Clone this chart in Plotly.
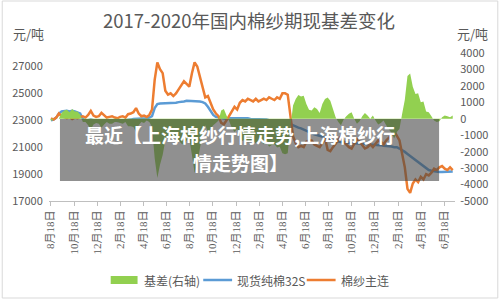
import plotly.graph_objects as go
import pandas as pd

# ---------------- data (weekly readings) ----------------
start_date = "2017-08-18"
futures = [  # 棉纱主连 (元/吨)
    23150, 23050, 23200, 23500, 23300, 23200, 23150, 23250, 23100, 23200,
    23150, 23250, 23300, 23200, 23400, 23700, 23350, 23250, 23300, 23550,
    23400, 23200, 23250, 23300, 23200, 23150, 23250, 23300, 23200, 23450,
    23500, 23600, 23900, 23500, 23300, 23350, 23250, 23400, 23800, 26000,
    27300, 26800, 26500, 25200, 24900, 25000, 24800, 25000, 25300, 25600,
    25900, 25700, 25500, 26500, 27300, 27000, 26200, 25300, 24700, 24800,
    24300, 23800, 23500, 23300, 22800, 22700, 23000, 23300, 23700, 24000,
    23800, 24300, 24500, 24400, 24600, 24500, 24400, 24600, 24400, 24500,
    24600, 24500, 24700, 24600, 24500, 24700, 24600, 25000, 25000, 24900,
    23200, 21800, 21300, 21000, 21100, 21000, 21400, 21500, 21500, 21200,
    21100, 21000, 21300, 21700, 20800, 20700, 21000, 21300, 21600, 21800,
    21400, 21200, 21000, 20900, 21300, 21600, 21400, 21100, 20900, 21000,
    21200, 21000, 21300, 21500, 21400, 21200, 21500, 21700, 21900, 22200,
    21800, 21500, 20500, 19500, 17900, 17600, 18300, 18600, 18400, 18800,
    18600, 19000, 18900, 19100, 19400, 19300, 19500, 19600, 19400, 19300,
    19500, 19300,
]
spot = [  # 现货纯棉32S (元/吨)
    23000, 23050, 23200, 23500, 23650, 23700, 23700, 23650, 23700, 23650,
    23600, 23500, 23100, 23000, 23000, 23050, 23000, 23000, 23000, 23000,
    23050, 23000, 22950, 23000, 23000, 22950, 23000, 23000, 23000, 23000,
    23050, 23100, 23100, 23100, 23100, 23100, 23150, 23200, 23300, 23900,
    24200, 24250, 24250, 24250, 24250, 24250, 24300, 24300, 24350, 24350,
    24400, 24450, 24450, 24450, 24450, 24450, 24400, 24350, 24250, 24000,
    23700, 23400, 23250, 23200, 23150, 23100, 23100, 23150, 23150, 23200,
    23200, 23200, 23150, 23150, 23150, 23100, 23100, 23100, 23100, 23100,
    23050, 23050, 23000, 23000, 22950, 22950, 22900, 22900, 22850, 22800,
    22700, 22600, 22500, 22450, 22400, 22300, 22250, 22150, 22050, 21950,
    21900, 21850, 21800, 21750, 21700, 21600, 21500, 21450, 21400, 21400,
    21350, 21350, 21300, 21300, 21300, 21300, 21250, 21250, 21250, 21200,
    21200, 21200, 21200, 21150, 21150, 21100, 21100, 21050, 21050, 21000,
    21000, 20900, 20800, 20650, 20500, 20350, 20250, 20100, 19950, 19800,
    19650, 19450, 19300, 19250, 19200, 19150, 19150, 19150, 19150, 19150,
    19150, 19200,
]
basis = [  # 基差(右轴) (元/吨)
    -150, 0, 0, 0, 350, 500, 550, 400, 600, 450,
    450, 250, -200, -200, -400, -650, -350, -250, -300, -550,
    -350, -200, -300, -300, -200, -200, -250, -300, -200, -450,
    -450, -500, -800, -400, -200, -250, -100, -200, -500, -2400,
    -3600, -2800, -2200, -1300, -1000, -1200, -900, -1100, -1300, -1500,
    -1600, -1300, -1200, -2200, -3300, -2700, -1800, -900, -400, -800,
    -600, -400, -250, -100, 500, 600, 200, -150, -550, -800,
    -600, -1100, -1350, -1250, -1450, -1400, -1300, -1500, -1300, -1400,
    -1550, -1450, -1700, -1600, -1550, -1750, -1700, -2100, -2150, -2100,
    -500, 800, 1200, 1450, 1350, 1400, 900, 550, 500, 700,
    600, 350, 900, 1200, 1300, 1100, 600, 100, -200, -400,
    -50, 150, 300, 400, 0, -300, -150, 150, 350, 200,
    0, 200, -100, -350, -250, -100, -400, -650, -850, -1200,
    -800, -600, 300, 1150, 2600, 2750, 1950, 1500, 1550, 1000,
    1050, 450, 400, 150, -100, -200, -150, 100, 200, 150,
    100, 200,
]
dates = pd.date_range(start_date, periods=len(futures), freq="7D")

tick_dates = [
    "2017-08-18", "2017-10-18", "2017-12-18", "2018-02-18", "2018-04-18",
    "2018-06-18", "2018-08-18", "2018-10-18", "2018-12-18", "2019-02-18",
    "2019-04-18", "2019-06-18", "2019-08-18", "2019-10-18", "2019-12-18",
    "2020-02-18", "2020-04-18", "2020-06-18",
]
tick_text = [f"{int(d[5:7])}月{d[8:10]}日" for d in tick_dates]
left_ticks = [17000, 19000, 21000, 23000, 25000, 27000]
right_ticks = [-5000, -4000, -3000, -2000, -1000, 0, 1000, 2000, 3000, 4000]

title_text = "2017-2020年国内棉纱期现基差变化"
names = ["基差(右轴)", "现货纯棉32S", "棉纱主连"]
colors = ["#92d050", "#5b9bd5", "#ed7d31"]
overlay_lines = ["最近【上海棉纱行情走势,上海棉纱行", "情走势图】"]

# ---------------- layout geometry (pixels) ----------------
W, H = 500, 300
L, R, T, B = 48, 456, 53, 201
def px(x):
    return (x - L) / (R - L)
def py(y):
    return (B - y) / (B - T)

GRAY = "#595959"
CJK = "Noto Sans CJK SC"

fig = go.Figure()
fig.add_trace(go.Scatter(
    x=dates, y=basis, name=names[0], yaxis="y2", mode="none",
    fill="tozeroy", fillcolor=colors[0],
))
fig.add_trace(go.Scatter(
    x=dates, y=spot, name=names[1], mode="lines",
    line=dict(color=colors[1], width=2.5),
))
fig.add_trace(go.Scatter(
    x=dates, y=futures, name=names[2], mode="lines",
    line=dict(color=colors[2], width=2.5),
))

fig.update_layout(
    width=W, height=H,
    margin=dict(l=L, r=W - R, t=T, b=H - B),
    paper_bgcolor="white", plot_bgcolor="white",
    font=dict(family=CJK, color=GRAY, size=11),
    showlegend=False,
    xaxis=dict(
        type="date", range=["2017-08-13", "2020-07-16"],
        tickvals=tick_dates, ticktext=tick_text, tickangle=-90,
        tickfont=dict(family="Liberation Serif, " + CJK, size=11, color=GRAY),
        showgrid=False, showline=True, linecolor="#bfbfbf", linewidth=1,
        ticks="outside", ticklen=4, tickcolor="#bfbfbf",
        zeroline=False,
    ),
    yaxis=dict(
        range=[17000, 28000], tickvals=left_ticks,
        ticktext=[str(v) for v in left_ticks],
        showgrid=False, zeroline=False, showline=False,
        ticks="outside", ticklen=3, tickcolor="rgba(0,0,0,0)",
        tickfont=dict(size=11, color=GRAY),
    ),
    yaxis2=dict(
        range=[-5000, 4000], tickvals=right_ticks,
        ticktext=[str(v) for v in right_ticks], overlaying="y",
        side="right", showgrid=False, zeroline=False, showline=False,
        ticks="outside", ticklen=2, tickcolor="rgba(0,0,0,0)",
        tickfont=dict(size=11, color=GRAY),
    ),
    title=dict(text=title_text, x=249 / W, xref="container", xanchor="center",
               y=1 - 22 / H, yref="container", yanchor="middle",
               font=dict(size=18.5, color=GRAY, family=CJK)),
)

annos = [
    dict(text="元/吨", x=px(10), y=py(33), xanchor="left"),
    dict(text="元/吨", x=px(456), y=py(33), xanchor="left"),
]
for a in annos:
    fig.add_annotation(xref="paper", yref="paper", showarrow=False,
                       yanchor="middle", font=dict(size=13, color=GRAY, family=CJK), **a)

# custom legend (symbol then label)
leg_y = 280
leg_sym_x = [(110, 137), (203, 232), (307, 336)]
leg_txt_x = [141, 235, 339]
for i, name in enumerate(names):
    x0, x1 = leg_sym_x[i]
    if i == 0:
        fig.add_shape(type="rect", xref="paper", yref="paper",
                      x0=px(x0), x1=px(x1), y0=py(leg_y - 4), y1=py(leg_y + 4),
                      line=dict(width=0), fillcolor=colors[i])
    else:
        fig.add_shape(type="line", xref="paper", yref="paper",
                      x0=px(x0), x1=px(x1), y0=py(leg_y), y1=py(leg_y),
                      line=dict(color=colors[i], width=2.5))
    fig.add_annotation(xref="paper", yref="paper", showarrow=False,
                       x=px(leg_txt_x[i]), y=py(leg_y), xanchor="left", yanchor="middle",
                       text=name, font=dict(size=12, color=GRAY, family=CJK))

# outer chart border
fig.add_shape(type="rect", xref="paper", yref="paper",
              x0=px(1), x1=px(499), y0=py(1), y1=py(298),
              line=dict(color="#d9d9d9", width=1), fillcolor="rgba(0,0,0,0)")
# gray caption overlay
fig.add_shape(type="rect", xref="paper", yref="paper", layer="above",
              x0=px(59), x1=px(440), y0=py(119), y1=py(181),
              line=dict(width=0), fillcolor="rgba(70,70,70,0.6)")
for txt, yy in zip(overlay_lines, [134, 162]):
    fig.add_annotation(xref="paper", yref="paper", showarrow=False,
                       x=px(240), y=py(yy), xanchor="center", yanchor="middle",
                       text="<b>" + txt + "</b>",
                       font=dict(size=19, color="white", family=CJK))

fig.write_html("out.html")
